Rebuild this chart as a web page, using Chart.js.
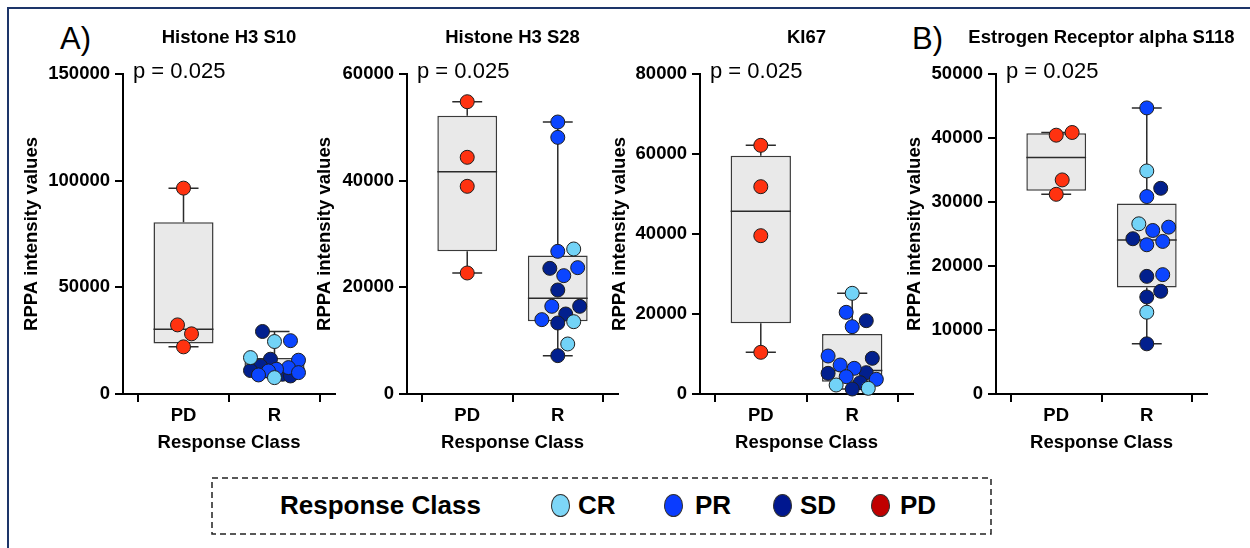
<!DOCTYPE html>
<html>
<head>
<meta charset="utf-8">
<title>RPPA intensity values by response class</title>
<script src="https://cdn.jsdelivr.net/npm/chart.js@4.4.1/dist/chart.umd.min.js"></script>
<style>
  html, body { margin: 0; padding: 0; background: #fff; }
  body { width: 1250px; height: 548px; position: relative; overflow: hidden;
         font-family: 'Liberation Sans', Arial, Helvetica, sans-serif; color: #000; }
  .frame { position: absolute; left: 7px; top: 7px; width: 1400px; height: 700px;
           border-left: 2px solid #1d3569; border-top: 2px solid #1d3569; }
  canvas { position: absolute; top: 0; }
  .tag { position: absolute; top: 23px; font-size: 31px; line-height: 31px; }
  .legend { position: absolute; left: 211px; top: 477px; }
  .ltext { position: absolute; top: 490px; font-size: 26px; line-height: 30px; font-weight: bold; white-space: nowrap; }
  .dot { position: absolute; top: 494px; width: 19px; height: 23px; border-radius: 50%;
         border: 1px solid #333; box-sizing: border-box; }
</style>
</head>
<body>
<div class="frame"></div>
<div class="tag" style="left:60px">A)</div>
<div class="tag" style="left:912px">B)</div>

<canvas id="c1" width="358" height="458" style="left:17px"></canvas>
<canvas id="c2" width="348" height="458" style="left:310px"></canvas>
<canvas id="c3" width="348" height="458" style="left:605px"></canvas>
<canvas id="c4" width="347" height="458" style="left:900px"></canvas>

<svg class="legend" width="782" height="59">
  <rect x="1" y="1" width="779" height="56" fill="none" stroke="#222" stroke-width="1.5" stroke-dasharray="6 4"></rect>
</svg>
<div id="legendItems"></div>

<script>
const FONT = "'Liberation Sans', Arial, Helvetica, sans-serif";

// categories and panel texts
const groups = ['PD', 'R'];
const panelTitles = ['Histone H3 S10', 'Histone H3 S28', 'KI67', 'Estrogen Receptor alpha S118'];
const pTexts = ['p = 0.025', 'p = 0.025', 'p = 0.025', 'p = 0.025'];
const yMaxes = [150000, 60000, 80000, 50000];
const ySteps = [50000, 20000, 20000, 10000];
const legendTitle = 'Response Class';
const legendClasses = ['CR', 'PR', 'SD', 'PD'];

// Histone H3 S10
const h3s10PD = [96500, 32400, 28200, 22100];
const h3s10R = [29300, 25000, 24600, 17070, 16300, 15840, 13170, 12380, 11600, 11000, 10810, 10020, 9250, 8930, 8460, 7680];
const h3s10RClass = ['SD', 'PR', 'CR', 'CR', 'SD', 'PR', 'SD', 'PR', 'PR', 'SD', 'PR', 'PR', 'SD', 'PR', 'SD', 'CR'];

// Histone H3 S28
const h3s28PD = [54800, 44380, 38940, 22690];
const h3s28R = [51000, 48120, 27190, 26750, 23690, 23560, 22190, 19500, 16440, 16440, 15000, 13940, 13560, 13310, 9380, 7190];
const h3s28RClass = ['PR', 'PR', 'CR', 'PR', 'PR', 'SD', 'PR', 'SD', 'PR', 'SD', 'SD', 'PR', 'CR', 'SD', 'CR', 'SD'];

// KI67
const ki67PD = [62170, 51830, 39580, 10420];
const ki67R = [25170, 20420, 18330, 16830, 9500, 8920, 7250, 6420, 5330, 5170, 4330, 3670, 2830, 2250, 1420, 1250];
const ki67RClass = ['CR', 'PR', 'SD', 'PR', 'PR', 'SD', 'PR', 'PR', 'SD', 'SD', 'PR', 'PR', 'SD', 'CR', 'CR', 'SD'];

// Estrogen Receptor alpha S118
const eraPD = [40860, 40440, 33450, 31200];
const eraR = [44700, 34850, 32140, 30850, 26590, 26070, 25550, 24260, 23840, 23320, 18650, 18380, 16050, 15160, 12780, 7840];
const eraRClass = ['PR', 'CR', 'SD', 'PR', 'CR', 'PR', 'PR', 'SD', 'PR', 'PR', 'PR', 'SD', 'SD', 'SD', 'CR', 'SD'];

// styles
const pointColors = { CR: '#72d3f7', PR: '#0b45ff', SD: '#02208e', PD: '#ff3210' };
const legendColors = { CR: '#7dd6f7', PR: '#0a3cff', SD: '#00178f', PD: '#c00000' };
const legendTextX = 280;
const legendDotX = [551, 664, 773, 871];
const legendLabelX = [578, 695, 800, 900];

const PLOT_H = 320, PX_PER_X = 91, DOT_R = 7;

Chart.defaults.color = '#000';
Chart.defaults.font.family = FONT;

// Prism style quartiles, (n+1) positions
function quartile(sorted, p) {
    const n = sorted.length, pos = (n + 1) * p, lo = Math.floor(pos);
    if (lo < 1) return sorted[0];
    if (lo >= n) return sorted[n - 1];
    return sorted[lo - 1] + (pos - lo) * (sorted[lo] - sorted[lo - 1]);
}
function summary(vals) {
    const s = vals.slice().sort((a, b) => a - b);
    return { min: s[0], q1: quartile(s, 0.25), med: quartile(s, 0.5), q3: quartile(s, 0.75), max: s[s.length - 1] };
}

// simple beeswarm: horizontal offsets (in x units) so dots do not overlap much
function swarm(vals, yMax) {
    const placed = [], offs = new Array(vals.length);
    const idx = vals.map((v, i) => i).sort((a, b) => vals[a] - vals[b]);
    for (const i of idx) {
        const py = vals[i] / yMax * PLOT_H;
        let best = 0, bestD = -1;
        search:
        for (let k = 0; k <= 24; k += 2) {
            for (const s of (k ? [k, -k] : [0])) {
                let d = Infinity;
                for (const p of placed) d = Math.min(d, Math.hypot(p.x - s, p.y - py));
                if (d >= 2 * DOT_R + 1) { best = s; break search; }
                if (d > bestD) { bestD = d; best = s; }
            }
        }
        placed.push({ x: best, y: py });
        offs[i] = best / PX_PER_X;
    }
    return offs;
}

const panelText = {
    id: 'panelText',
    afterDraw(chart, args, opts) {
        const { ctx, chartArea } = chart;
        ctx.save();
        ctx.fillStyle = '#000';
        ctx.textBaseline = 'alphabetic';
        ctx.textAlign = 'center';
        ctx.font = 'bold 18.5px ' + FONT;
        ctx.fillText(opts.title, (chartArea.left + chartArea.right) / 2, 43);
        ctx.textAlign = 'left';
        ctx.font = '22px ' + FONT;
        ctx.fillText(opts.pText, chartArea.left + 10, 78);
        ctx.restore();
    }
};

function makePanel(canvasId, i, pd, r, rClass, yAxisW) {
    const yMax = yMaxes[i];
    const stats = [summary(pd), summary(r)];
    const boxHalf = 0.33, capHalf = 0.165;

    const boxData = stats.map((s, g) => ({ x: g + 1, y: [s.q1, s.q3] }));
    const lineData = [];
    stats.forEach((s, g) => {
        const c = g + 1;
        lineData.push({ x: c, y: s.q3 }, { x: c, y: s.max }, { x: c, y: null });
        lineData.push({ x: c - capHalf, y: s.max }, { x: c + capHalf, y: s.max }, { x: c, y: null });
        lineData.push({ x: c, y: s.q1 }, { x: c, y: s.min }, { x: c, y: null });
        lineData.push({ x: c - capHalf, y: s.min }, { x: c + capHalf, y: s.min }, { x: c, y: null });
        lineData.push({ x: c - boxHalf, y: s.med }, { x: c + boxHalf, y: s.med }, { x: c, y: null });
    });

    const offPD = swarm(pd, yMax);
    const offR = swarm(r, yMax);
    const pointSets = [];
    ['CR', 'PR', 'SD'].forEach(k => {
        const data = [];
        r.forEach((v, j) => { if (rClass[j] === k) data.push({ x: 2 + offR[j], y: v }); });
        pointSets.push({ type: 'scatter', label: k, data: data });
    });
    pointSets.push({ type: 'scatter', label: 'PD', data: pd.map((v, j) => ({ x: 1 + offPD[j], y: v })) });
    pointSets.forEach(ds => Object.assign(ds, {
        backgroundColor: pointColors[ds.label], borderColor: '#1e1e1e', borderWidth: 1,
        pointRadius: DOT_R, pointHoverRadius: DOT_R, clip: false, order: 1
    }));

    const axisFont = { size: 18.5, weight: 'bold', family: FONT };
    const gridOpts = { drawOnChartArea: false, color: '#000', lineWidth: 2, tickLength: 8, tickColor: '#000' };

    new Chart(document.getElementById(canvasId), {
        type: 'scatter',
        data: {
            datasets: [
                ...pointSets,
                { type: 'line', data: lineData, showLine: true, spanGaps: false, borderColor: '#2b2b2b',
                  borderWidth: 1.5, pointRadius: 0, fill: false, order: 2 },
                { type: 'bar', data: boxData, backgroundColor: '#e9e9e9', borderColor: '#3a3a3a',
                  borderWidth: 1.5, borderSkipped: false, categoryPercentage: 1, barPercentage: 0.66, order: 3 }
            ]
        },
        options: {
            responsive: false,
            animation: false,
            events: [],
            layout: { padding: { top: 74, right: 40, bottom: 0, left: 0 } },
            plugins: {
                legend: { display: false },
                tooltip: { enabled: false },
                panelText: { title: panelTitles[i], pText: pTexts[i] }
            },
            scales: {
                x: {
                    type: 'linear', min: 0.335, max: 2.665, offset: false,
                    afterBuildTicks: s => { s.ticks = [{ value: 1 }, { value: 2 }]; },
                    afterFit: s => { s.height = 64; },
                    ticks: { font: axisFont, color: '#000', padding: 3, callback: v => groups[v - 1] },
                    grid: gridOpts,
                    border: { display: true, color: '#000', width: 2 },
                    title: { display: true, text: 'Response Class', font: axisFont, color: '#000', padding: { top: 4, bottom: 4 } }
                },
                y: {
                    min: 0, max: yMax,
                    afterFit: s => { s.width = yAxisW; },
                    ticks: { stepSize: ySteps[i], font: axisFont, color: '#000', padding: 5, callback: v => String(v) },
                    grid: gridOpts,
                    border: { display: true, color: '#000', width: 2 },
                    title: { display: true, text: 'RPPA intensity values', font: axisFont, color: '#000', padding: { top: 4, bottom: 4 } }
                }
            }
        },
        plugins: [panelText]
    });
}

makePanel('c1', 0, h3s10PD, h3s10R, h3s10RClass, 106);
makePanel('c2', 1, h3s28PD, h3s28R, h3s28RClass, 97);
makePanel('c3', 2, ki67PD, ki67R, ki67RClass, 95);
makePanel('c4', 3, eraPD, eraR, eraRClass, 96);

// shared legend
const holder = document.getElementById('legendItems');
let html = '<div class="ltext" style="left:' + legendTextX + 'px">' + legendTitle + '</div>';
legendClasses.forEach((k, j) => {
    html += '<div class="dot" style="left:' + legendDotX[j] + 'px;background:' + legendColors[k] + '"></div>';
    html += '<div class="ltext" style="left:' + legendLabelX[j] + 'px">' + k + '</div>';
});
holder.innerHTML = html;
</script>
</body>
</html>
